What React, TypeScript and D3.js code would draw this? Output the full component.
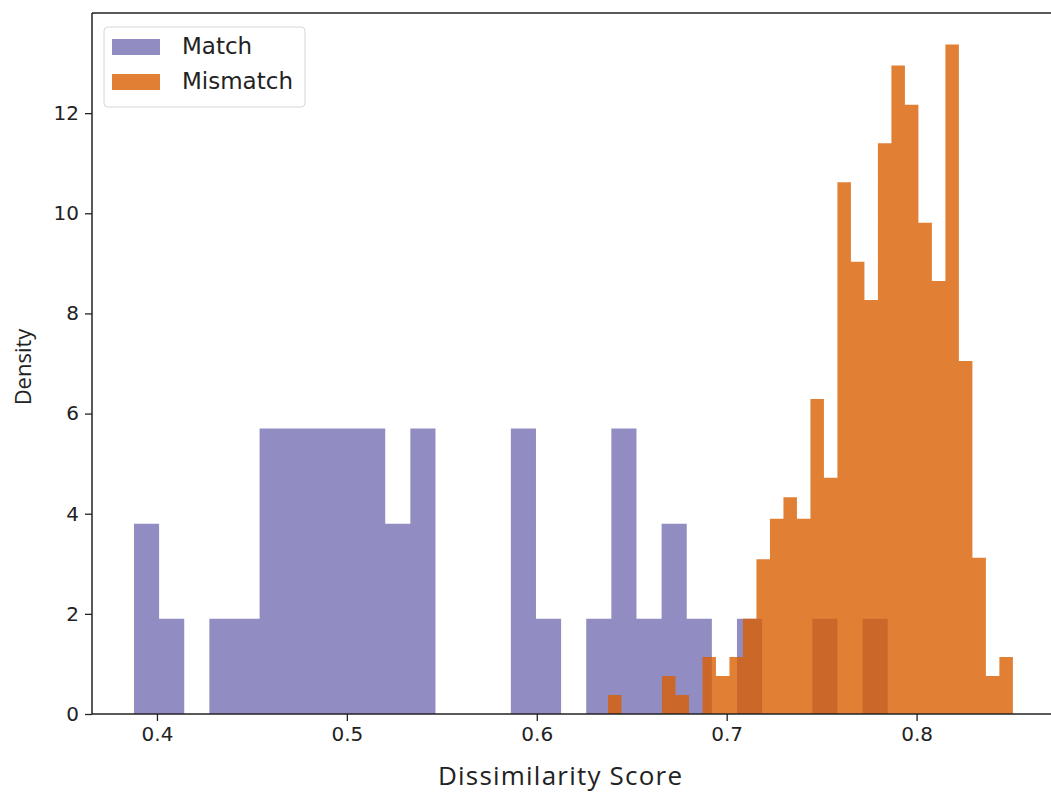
import React, { useEffect, useRef } from 'react';
import * as d3 from 'd3';

// histogram densities, 30 bins each
const matchRange = [0.3879, 0.7848];
const matchDensity = [
    3.8, 1.9, 0, 1.9, 1.9, 5.7, 5.7, 5.7, 5.7, 5.7,
    3.8, 5.7, 0, 0, 0, 5.7, 1.9, 0, 1.9, 5.7,
    1.9, 3.8, 1.9, 0, 1.9, 0, 0, 1.9, 0, 1.9
];

const mismatchRange = [0.6375, 0.8507];
const mismatchDensity = [
    0.38, 0, 0, 0, 0.76, 0.38, 0, 1.14, 0.76, 1.14,
    1.9, 3.09, 3.9, 4.33, 3.9, 6.29, 4.72, 10.62, 9.03, 8.27,
    11.4, 12.95, 12.17, 9.81, 8.65, 13.37, 7.05, 3.12, 0.76, 1.14
];

const seriesNames = ["Match", "Mismatch"];
const seriesColors = ["#7570b3", "#d95f02"];

const xTicks = [0.4, 0.5, 0.6, 0.7, 0.8];
const yTicks = [0, 2, 4, 6, 8, 10, 12];

const width = 1051;
const height = 794;

// each bin gives two points so the area draws flat tops without seams
const toSteps = (range, dens) => {
    const step = (range[1] - range[0]) / dens.length;
    return dens.flatMap((d, i) => [
        { x: range[0] + i * step, value: d },
        { x: range[0] + (i + 1) * step, value: d }
    ]);
};

const Histogram = () => {
    const wrapper = useRef(null);

    useEffect(() => {
        d3.select(wrapper.current).selectAll("*").remove();

        const margin = { top: 13, bottom: 80, left: 92 };

        const x = d3.scaleLinear()
            .domain([0.3658, 0.8763])
            .range([margin.left, 1061.5]);

        const y = d3.scaleLinear()
            .domain([0, 14.0])
            .range([height - margin.bottom, margin.top]);

        const svg = d3.select(wrapper.current)
            .attr("width", width)
            .attr("height", height)
            .style("background", "#fff");

        const area = d3.area()
            .x(d => x(d.x))
            .y0(y(0))
            .y1(d => y(d.value));

        const series = [toSteps(matchRange, matchDensity), toSteps(mismatchRange, mismatchDensity)];

        svg.append("g")
            .selectAll("path")
            .data(series)
            .join("path")
                .attr("fill", (d, i) => seriesColors[i])
                .attr("fill-opacity", 0.8)
                .attr("d", area);

        // spines (right one falls outside the picture)
        const spine = svg.append("g").attr("stroke", "#222").attr("stroke-width", 1.5);
        spine.append("line").attr("x1", margin.left).attr("x2", margin.left).attr("y1", margin.top).attr("y2", y(0));
        spine.append("line").attr("x1", margin.left).attr("x2", width).attr("y1", y(0)).attr("y2", y(0));
        spine.append("line").attr("x1", margin.left).attr("x2", width).attr("y1", margin.top).attr("y2", margin.top);

        const xAxis = svg.append("g")
            .attr("transform", `translate(0,${y(0)})`)
            .call(d3.axisBottom(x).tickValues(xTicks).tickFormat(d3.format(".1f")).tickSize(7).tickPadding(6));
        xAxis.select(".domain").remove();

        const yAxis = svg.append("g")
            .attr("transform", `translate(${margin.left},0)`)
            .call(d3.axisLeft(y).tickValues(yTicks).tickSize(7).tickPadding(6));
        yAxis.select(".domain").remove();

        svg.selectAll(".tick line").attr("stroke", "#222").attr("stroke-width", 1.3);
        svg.selectAll(".tick text")
            .attr("fill", "#222")
            .style("font-family", "DejaVu Sans")
            .style("font-size", "20px");

        svg.append("text")
            .attr("x", 560)
            .attr("y", 785)
            .attr("text-anchor", "middle")
            .attr("textLength", 244)
            .attr("fill", "#222")
            .style("font-family", "Open Sans")
            .style("font-size", "26px")
            .text("Dissimilarity Score");

        svg.append("text")
            .attr("transform", "translate(31,367) rotate(-90)")
            .attr("text-anchor", "middle")
            .attr("fill", "#222")
            .style("font-family", "Open Sans")
            .style("font-size", "22px")
            .text("Density");

        // legend
        const legend = svg.append("g");
        legend.append("rect")
            .attr("x", 104).attr("y", 27)
            .attr("width", 201).attr("height", 80)
            .attr("rx", 4)
            .attr("fill", "#fff").attr("fill-opacity", 0.8)
            .attr("stroke", "#d6d6d6");

        const items = legend.selectAll("g.item")
            .data(seriesNames)
            .join("g")
                .attr("class", "item")
                .attr("transform", (d, i) => `translate(112,${39 + i * 35})`);
        items.append("rect")
            .attr("width", 48).attr("height", 16)
            .attr("fill", (d, i) => seriesColors[i])
            .attr("fill-opacity", 0.8);
        items.append("text")
            .attr("x", 70).attr("y", 15)
            .attr("fill", "#222")
            .style("font-family", "DejaVu Sans")
            .style("font-size", "23px")
            .text(d => d);
    }, []);

    return <svg ref={wrapper} style={{ position: "absolute", left: 0, top: 0 }}></svg>;
};

export default function App() {
    return <Histogram />;
}
